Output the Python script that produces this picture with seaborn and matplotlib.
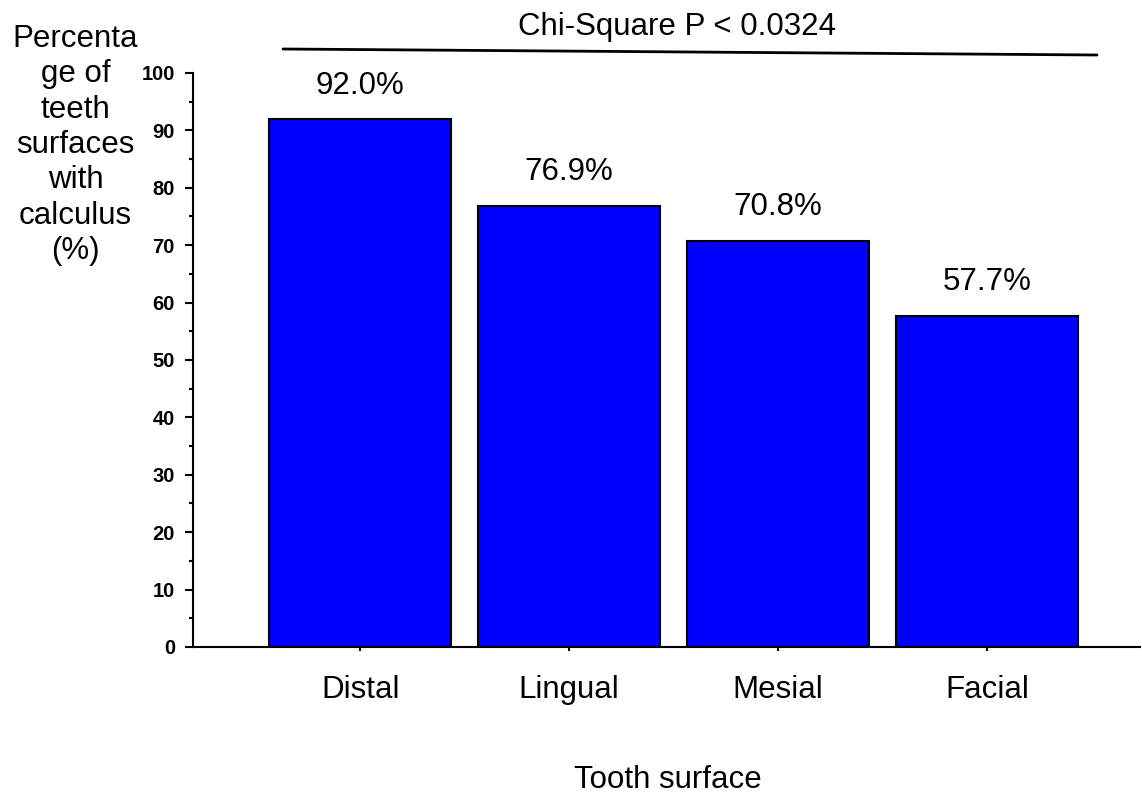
import matplotlib
matplotlib.use('Agg')
import matplotlib.pyplot as plt
import seaborn as sns
import pandas as pd

# data
surfaces = ['Distal', 'Lingual', 'Mesial', 'Facial']
pct_calculus = [92.0, 76.9, 70.8, 57.7]
value_labels = ['92.0%', '76.9%', '70.8%', '57.7%']
y_ticks = [0, 10, 20, 30, 40, 50, 60, 70, 80, 90, 100]

df = pd.DataFrame({'surface': surfaces, 'pct': pct_calculus})

sns.set_style('ticks', {'axes.edgecolor': 'black', 'text.color': 'black',
                        'xtick.color': 'black', 'ytick.color': 'black',
                        'axes.labelcolor': 'black'})
plt.rcParams['font.family'] = ['Liberation Sans', 'DejaVu Sans']

fig = plt.figure(figsize=(11.42, 7.95), dpi=100)
ax = fig.add_axes([0.169, 0.1862, 0.829, 0.7220])

sns.barplot(data=df, x='surface', y='pct', color='#0000FF', saturation=1,
            width=0.87, edgecolor='black', linewidth=1.5, ax=ax)

ax.set_xlim(-0.80, 3.73)
ax.set_ylim(0, 100)
ax.set_yticks(y_ticks)
ax.set_yticks(range(5, 100, 10), minor=True)
ax.tick_params(axis='y', which='major', length=6, width=1.5, labelsize=14.5, pad=7)
ax.tick_params(axis='y', which='minor', length=3, width=1.5)
ax.tick_params(axis='x', length=3, width=1.5, labelsize=22.5, pad=17)
for lbl in ax.get_yticklabels():
    lbl.set_fontweight('bold')

for i, txt in enumerate(value_labels):
    ax.text(i, pct_calculus[i] + 3.2, txt, ha='center', va='bottom', fontsize=22.5)

sns.despine(ax=ax)
ax.spines['left'].set_linewidth(1.5)
ax.spines['bottom'].set_linewidth(1.5)

ax.set_xlabel('')
ax.set_ylabel('')
fig.text(0.585, 1 - 788 / 795, 'Tooth surface', ha='center', va='baseline', fontsize=22.5)
fig.text(0.066, 1 - 145 / 795, 'Percenta\nge of\nteeth\nsurfaces\nwith\ncalculus\n(%)',
         ha='center', va='center', fontsize=22.5, linespacing=1.23)

# significance line and annotation on top
fig.lines.append(plt.Line2D([283 / 1142, 1097 / 1142], [1 - 49 / 795, 1 - 55 / 795],
                            transform=fig.transFigure, color='black', linewidth=2))
fig.text(677 / 1142, 1 - 35 / 795, 'Chi-Square P < 0.0324', ha='center', va='baseline',
         fontsize=22.5)

plt.savefig('out.png', dpi=100)
